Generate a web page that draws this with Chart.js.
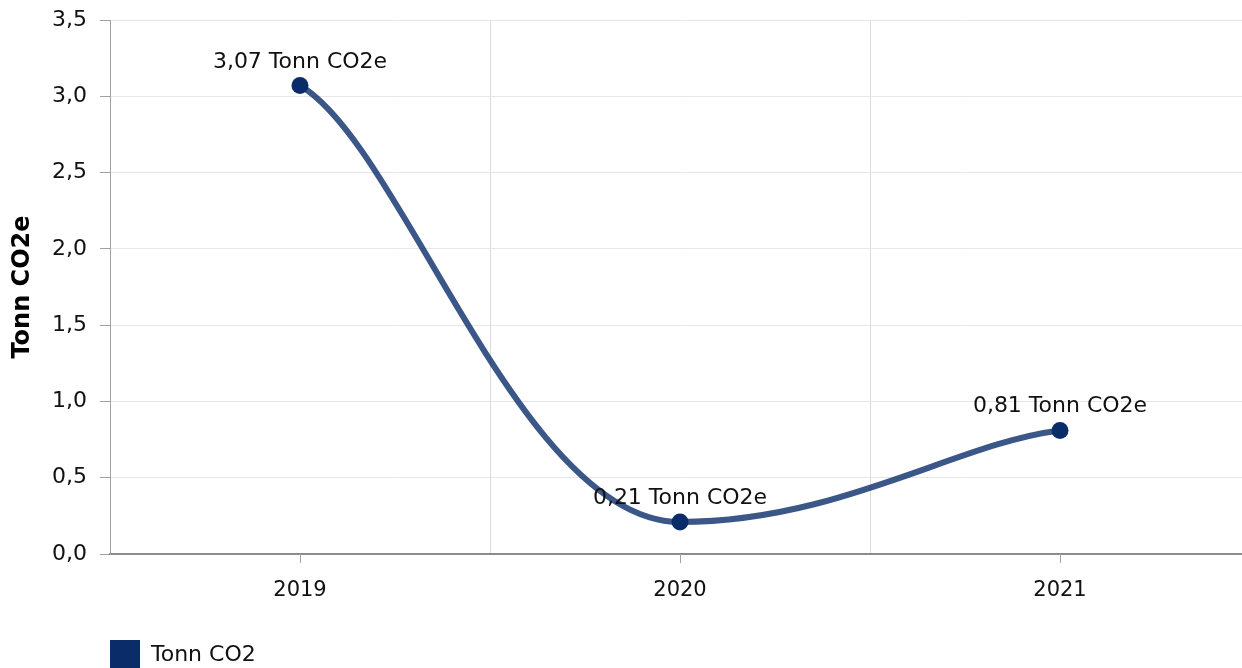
<!DOCTYPE html>
<html>
<head>
<meta charset="utf-8">
<script src="https://cdn.jsdelivr.net/npm/chart.js@4.4.1/dist/chart.umd.min.js"></script>
<style>
    html, body { margin: 0; padding: 0; background: #fff; overflow: hidden; }
    .viewport { width: 1242px; height: 668px; overflow: hidden; position: relative; }
    .chart-wrap { width: 1250px; height: 680px; position: absolute; left: 0; top: 0; }
</style>
</head>
<body>
<div class="viewport">
    <div class="chart-wrap">
        <canvas id="co2Chart" width="1250" height="680"></canvas>
    </div>
</div>
<script>
// data
const years = ['2019', '2020', '2021'];
const tonnCO2 = [3.07, 0.21, 0.81];
const seriesName = 'Tonn CO2';
const valueUnit = 'Tonn CO2e';
const yAxisTitle = 'Tonn CO2e';
const yMin = 0;
const yMax = 3.5;
const yStep = 0.5;

const NAVY = '#0a2d69';
const LINE = 'rgba(10, 45, 105, 0.8)';
const FONT = 'DejaVu Sans, Verdana, sans-serif';

const fmt = (v, digits) => v.toFixed(digits).replace('.', ',');

// smooth curve: flat at turning points, softer tangents at the ends
const splinePlugin = {
    id: 'spline',
    beforeDatasetDraw(chart, args) {
        const meta = args.meta;
        const pts = meta.data;
        const n = pts.length;
        if (n < 2) return;
        meta.dataset.updateControlPoints(chart.chartArea, 'x');

        const slope = (a, b) => (b.y - a.y) / (b.x - a.x);
        const tangents = pts.map((p, i) => {
            if (i === 0) return 0.5 * slope(p, pts[1]);
            if (i === n - 1) return 0.5 * slope(pts[i - 1], p);
            const s0 = slope(pts[i - 1], p);
            const s1 = slope(p, pts[i + 1]);
            return s0 * s1 <= 0 ? 0 : (s0 + s1) / 2;
        });

        pts.forEach((p, i) => {
            if (i > 0) {
                const dx = (p.x - pts[i - 1].x) * (i === n - 1 ? 0.27 : 0.42);
                p.cp1x = p.x - dx;
                p.cp1y = p.y - dx * tangents[i];
            }
            if (i < n - 1) {
                const dx = (pts[i + 1].x - p.x) * (i === 0 ? 0.27 : 0.42);
                p.cp2x = p.x + dx;
                p.cp2y = p.y + dx * tangents[i];
            }
        });
        meta.dataset._path = undefined;
    }
};

// value labels above points + x tick marks at category centres
const labelPlugin = {
    id: 'valueLabels',
    afterDatasetsDraw(chart) {
        const ctx = chart.ctx;
        const meta = chart.getDatasetMeta(0);
        ctx.save();
        ctx.font = '22px ' + FONT;
        ctx.fillStyle = '#111';
        ctx.textAlign = 'center';
        ctx.textBaseline = 'alphabetic';
        meta.data.forEach((p, i) => {
            ctx.fillText(fmt(tonnCO2[i], 2) + ' ' + valueUnit, p.x, p.y - 18);
        });
        ctx.restore();
    },
    afterDraw(chart) {
        const ctx = chart.ctx;
        const xs = chart.scales.x;
        ctx.save();
        ctx.strokeStyle = '#a0a0a0';
        ctx.lineWidth = 1;
        years.forEach((_, i) => {
            const px = Math.round(xs.getPixelForValue(i)) + 0.5;
            ctx.beginPath();
            ctx.moveTo(px, xs.top);
            ctx.lineTo(px, xs.top + 9);
            ctx.stroke();
        });
        ctx.restore();
    }
};

new Chart(document.getElementById('co2Chart'), {
    type: 'line',
    data: {
        labels: years,
        datasets: [{
            label: seriesName,
            data: tonnCO2,
            borderColor: LINE,
            backgroundColor: NAVY,
            borderWidth: 6,
            tension: 0.3,
            fill: false,
            pointRadius: 8.5,
            pointHoverRadius: 8.5,
            pointBackgroundColor: NAVY,
            pointBorderWidth: 0,
            clip: false
        }]
    },
    options: {
        responsive: false,
        maintainAspectRatio: false,
        animation: false,
        devicePixelRatio: 1,
        layout: { autoPadding: false, padding: { top: 20, left: 0, right: 0, bottom: 0 } },
        scales: {
            x: {
                offset: true,
                afterFit: (s) => { s.height = 86; s.paddingLeft = 0; s.paddingRight = 0; },
                grid: {
                    offset: true,
                    color: '#dcdcdc',
                    tickColor: 'transparent',
                    tickLength: 8
                },
                border: { color: '#8c8c8c', width: 2 },
                ticks: {
                    color: '#111',
                    padding: 16,
                    font: { family: FONT, size: 21 }
                }
            },
            y: {
                min: yMin,
                max: yMax,
                afterFit: (s) => { s.width = 110; s.paddingTop = 0; s.paddingBottom = 0; },
                grid: {
                    color: '#e6e6e6',
                    tickColor: '#a0a0a0',
                    tickLength: 10
                },
                border: { color: '#a0a0a0', width: 1 },
                ticks: {
                    stepSize: yStep,
                    color: '#111',
                    padding: 13,
                    font: { family: FONT, size: 22 },
                    callback: (v) => fmt(v, 1)
                },
                title: {
                    display: true,
                    text: yAxisTitle,
                    color: '#000',
                    font: { family: FONT, size: 24, weight: 'bold' },
                    padding: { top: 8.6, bottom: 0 }
                }
            }
        },
        plugins: {
            legend: {
                position: 'bottom',
                align: 'start',
                fullSize: false,
                labels: {
                    boxWidth: 30,
                    boxHeight: 30,
                    padding: 0,
                    color: '#111',
                    font: { family: FONT, size: 22 },
                    generateLabels: (chart) =>
                        Chart.defaults.plugins.legend.labels.generateLabels(chart)
                            .map(l => ({ ...l, lineWidth: 0, fillStyle: NAVY }))
                }
            },
            tooltip: { enabled: false }
        }
    },
    plugins: [splinePlugin, labelPlugin]
});
</script>
</body>
</html>
